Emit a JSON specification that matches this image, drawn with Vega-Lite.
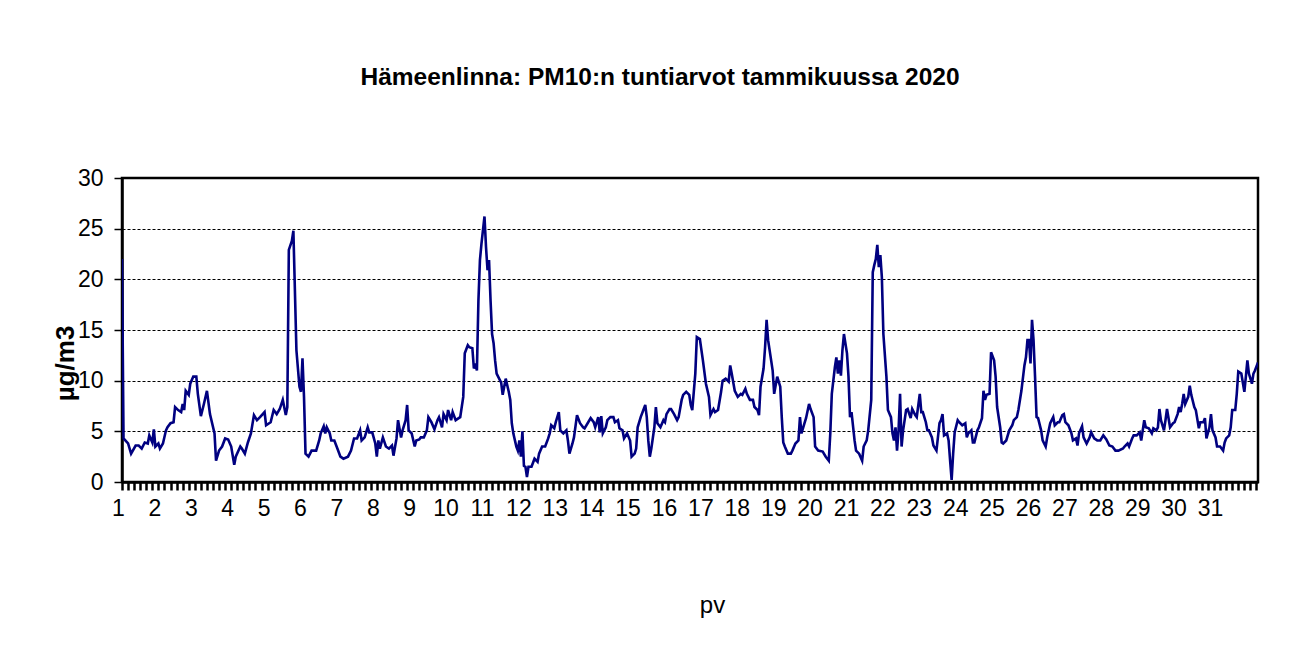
{
  "$schema": "https://vega.github.io/schema/vega-lite/v6.json",
  "autosize": "none",
  "width": 1136,
  "height": 304,
  "padding": {"left": 122, "top": 178, "right": 32, "bottom": 171},
  "background": "white",
  "title": {
    "text": "Hämeenlinna: PM10:n tuntiarvot tammikuussa 2020",
    "font": "Liberation Sans, Arial, sans-serif",
    "fontSize": 24.5,
    "fontWeight": "bold",
    "color": "black",
    "anchor": "middle",
    "frame": "group",
    "offset": 77,
    "dx": -30
  },
  "config": {
    "view": {"stroke": "black", "strokeWidth": 2.5},
    "axis": {"labelColor": "black", "tickColor": "black", "domainColor": "black", "titleColor": "black"}
  },
  "data": {"values": [
    {"tunti":0,"pm10":22.0},{"tunti":1,"pm10":4.3},{"tunti":4,"pm10":3.8},{"tunti":6,"pm10":2.8},{"tunti":9,"pm10":3.6},{"tunti":11,"pm10":3.6},{"tunti":13,"pm10":3.3},{"tunti":15,"pm10":3.9},{"tunti":17,"pm10":3.8},{"tunti":18,"pm10":4.6},{"tunti":20,"pm10":3.9},{"tunti":21,"pm10":5.2},{"tunti":22,"pm10":3.5},{"tunti":24,"pm10":3.8},{"tunti":25,"pm10":3.3},{"tunti":27,"pm10":3.8},{"tunti":29,"pm10":5.1},{"tunti":30,"pm10":5.4},{"tunti":32,"pm10":5.8},{"tunti":34,"pm10":5.9},{"tunti":35,"pm10":7.4},{"tunti":37,"pm10":7.1},{"tunti":39,"pm10":6.9},{"tunti":40,"pm10":7.7},{"tunti":41,"pm10":7.1},{"tunti":42,"pm10":9.0},{"tunti":44,"pm10":8.6},{"tunti":45,"pm10":9.7},{"tunti":47,"pm10":10.4},{"tunti":49,"pm10":10.4},{"tunti":50,"pm10":8.7},{"tunti":52,"pm10":6.5},{"tunti":54,"pm10":7.7},{"tunti":56,"pm10":9.0},{"tunti":58,"pm10":6.7},{"tunti":61,"pm10":4.8},{"tunti":62,"pm10":2.1},{"tunti":64,"pm10":3.1},{"tunti":66,"pm10":3.5},{"tunti":68,"pm10":4.3},{"tunti":70,"pm10":4.2},{"tunti":72,"pm10":3.5},{"tunti":74,"pm10":1.7},{"tunti":75,"pm10":2.5},{"tunti":78,"pm10":3.5},{"tunti":79,"pm10":3.3},{"tunti":81,"pm10":2.8},{"tunti":83,"pm10":3.9},{"tunti":85,"pm10":4.8},{"tunti":87,"pm10":6.6},{"tunti":89,"pm10":6.1},{"tunti":91,"pm10":6.4},{"tunti":94,"pm10":6.9},{"tunti":95,"pm10":5.6},{"tunti":98,"pm10":5.9},{"tunti":100,"pm10":7.1},{"tunti":102,"pm10":6.7},{"tunti":104,"pm10":7.2},{"tunti":106,"pm10":8.1},{"tunti":108,"pm10":6.6},{"tunti":109,"pm10":7.4},{"tunti":110,"pm10":22.9},{"tunti":112,"pm10":23.8},{"tunti":113,"pm10":24.8},{"tunti":115,"pm10":13.0},{"tunti":117,"pm10":9.4},{"tunti":118,"pm10":8.9},{"tunti":119,"pm10":12.2},{"tunti":120,"pm10":8.4},{"tunti":121,"pm10":2.8},{"tunti":123,"pm10":2.5},{"tunti":125,"pm10":3.1},
    {"tunti":128,"pm10":3.1},{"tunti":130,"pm10":4.1},{"tunti":131,"pm10":4.8},{"tunti":133,"pm10":5.5},{"tunti":134,"pm10":4.8},{"tunti":135,"pm10":5.4},{"tunti":137,"pm10":4.8},{"tunti":138,"pm10":4.1},{"tunti":140,"pm10":4.1},{"tunti":142,"pm10":3.3},{"tunti":144,"pm10":2.5},{"tunti":146,"pm10":2.3},{"tunti":149,"pm10":2.5},{"tunti":151,"pm10":3.1},{"tunti":153,"pm10":4.3},{"tunti":155,"pm10":4.3},{"tunti":157,"pm10":5.1},{"tunti":158,"pm10":4.1},{"tunti":160,"pm10":4.4},{"tunti":162,"pm10":5.4},{"tunti":163,"pm10":4.9},{"tunti":165,"pm10":4.9},{"tunti":167,"pm10":3.8},{"tunti":168,"pm10":2.5},{"tunti":169,"pm10":4.1},{"tunti":170,"pm10":3.3},{"tunti":172,"pm10":4.4},{"tunti":174,"pm10":3.5},{"tunti":176,"pm10":3.3},{"tunti":178,"pm10":3.6},{"tunti":179,"pm10":2.6},{"tunti":181,"pm10":4.3},{"tunti":182,"pm10":6.1},{"tunti":184,"pm10":4.4},{"tunti":185,"pm10":5.1},{"tunti":187,"pm10":6.1},{"tunti":188,"pm10":7.6},{"tunti":189,"pm10":5.1},{"tunti":191,"pm10":4.8},{"tunti":193,"pm10":3.5},{"tunti":194,"pm10":4.1},{"tunti":196,"pm10":4.2},{"tunti":197,"pm10":4.4},{"tunti":199,"pm10":4.4},{"tunti":201,"pm10":5.1},{"tunti":202,"pm10":6.4},{"tunti":204,"pm10":5.9},{"tunti":206,"pm10":5.2},{"tunti":208,"pm10":6.1},{"tunti":209,"pm10":6.4},{"tunti":211,"pm10":5.4},{"tunti":212,"pm10":6.7},{"tunti":214,"pm10":6.1},{"tunti":215,"pm10":7.1},{"tunti":217,"pm10":6.1},{"tunti":218,"pm10":6.9},{"tunti":220,"pm10":6.1},{"tunti":222,"pm10":6.3},{"tunti":223,"pm10":6.4},{"tunti":225,"pm10":8.4},{"tunti":226,"pm10":12.7},{"tunti":228,"pm10":13.5},{"tunti":229,"pm10":13.3},{"tunti":231,"pm10":13.2},{"tunti":232,"pm10":11.2},{"tunti":233,"pm10":11.7},{"tunti":234,"pm10":11.0},{"tunti":235,"pm10":17.9},{"tunti":236,"pm10":21.9},{"tunti":237,"pm10":23.5},{"tunti":239,"pm10":26.2},{"tunti":240,"pm10":23.2},{"tunti":241,"pm10":20.9},{"tunti":242,"pm10":21.9},{"tunti":243,"pm10":17.9},{"tunti":244,"pm10":14.6},{"tunti":245,"pm10":13.7},{"tunti":246,"pm10":12.0},{"tunti":247,"pm10":10.7},
    {"tunti":250,"pm10":9.8},{"tunti":251,"pm10":8.6},{"tunti":252,"pm10":9.4},{"tunti":253,"pm10":10.2},{"tunti":255,"pm10":8.9},{"tunti":256,"pm10":8.1},{"tunti":257,"pm10":5.8},{"tunti":258,"pm10":4.8},{"tunti":260,"pm10":3.5},{"tunti":261,"pm10":3.1},{"tunti":262,"pm10":4.1},{"tunti":263,"pm10":2.5},{"tunti":264,"pm10":5.0},{"tunti":265,"pm10":1.6},{"tunti":266,"pm10":1.5},{"tunti":267,"pm10":0.5},{"tunti":268,"pm10":1.5},{"tunti":270,"pm10":1.5},{"tunti":272,"pm10":2.3},{"tunti":274,"pm10":2.0},{"tunti":275,"pm10":2.8},{"tunti":277,"pm10":3.5},{"tunti":279,"pm10":3.5},{"tunti":281,"pm10":4.3},{"tunti":282,"pm10":4.8},{"tunti":283,"pm10":5.6},{"tunti":285,"pm10":5.3},{"tunti":286,"pm10":5.9},{"tunti":288,"pm10":6.9},{"tunti":289,"pm10":5.1},{"tunti":291,"pm10":4.8},{"tunti":293,"pm10":5.1},{"tunti":294,"pm10":4.1},{"tunti":295,"pm10":2.8},{"tunti":297,"pm10":3.8},{"tunti":298,"pm10":4.4},{"tunti":300,"pm10":6.6},{"tunti":302,"pm10":5.8},{"tunti":304,"pm10":5.4},{"tunti":305,"pm10":5.3},{"tunti":307,"pm10":5.8},{"tunti":309,"pm10":6.3},{"tunti":311,"pm10":5.9},{"tunti":312,"pm10":5.4},{"tunti":314,"pm10":6.4},{"tunti":315,"pm10":4.9},{"tunti":316,"pm10":6.5},{"tunti":317,"pm10":4.8},{"tunti":319,"pm10":5.4},{"tunti":320,"pm10":6.1},{"tunti":322,"pm10":6.4},{"tunti":324,"pm10":6.4},{"tunti":325,"pm10":5.9},{"tunti":327,"pm10":6.1},{"tunti":328,"pm10":5.3},{"tunti":330,"pm10":5.1},{"tunti":331,"pm10":4.3},{"tunti":333,"pm10":4.8},{"tunti":335,"pm10":4.1},{"tunti":336,"pm10":2.5},{"tunti":338,"pm10":2.8},{"tunti":339,"pm10":3.3},{"tunti":340,"pm10":5.4},{"tunti":342,"pm10":6.4},{"tunti":344,"pm10":7.2},{"tunti":345,"pm10":7.6},{"tunti":346,"pm10":6.4},{"tunti":347,"pm10":4.1},{"tunti":348,"pm10":2.5},{"tunti":349,"pm10":3.3},{"tunti":351,"pm10":5.4},{"tunti":352,"pm10":7.4},{"tunti":353,"pm10":5.8},{"tunti":355,"pm10":5.4},{"tunti":357,"pm10":6.1},{"tunti":358,"pm10":5.9},{"tunti":359,"pm10":6.7},{"tunti":361,"pm10":7.2},{"tunti":362,"pm10":7.2},{"tunti":364,"pm10":6.7},{"tunti":366,"pm10":6.1},{"tunti":367,"pm10":6.4},{"tunti":369,"pm10":8.1},{"tunti":370,"pm10":8.6},{"tunti":372,"pm10":8.9},{"tunti":374,"pm10":8.6},{"tunti":375,"pm10":7.6},
    {"tunti":376,"pm10":7.1},{"tunti":378,"pm10":10.7},{"tunti":379,"pm10":14.3},{"tunti":381,"pm10":14.1},{"tunti":383,"pm10":12.0},{"tunti":385,"pm10":9.7},{"tunti":387,"pm10":8.4},{"tunti":388,"pm10":6.6},{"tunti":390,"pm10":7.2},{"tunti":391,"pm10":6.9},{"tunti":393,"pm10":7.1},{"tunti":395,"pm10":8.9},{"tunti":396,"pm10":10.0},{"tunti":398,"pm10":10.2},{"tunti":400,"pm10":9.9},{"tunti":401,"pm10":11.5},{"tunti":402,"pm10":10.7},{"tunti":404,"pm10":9.0},{"tunti":406,"pm10":8.4},{"tunti":408,"pm10":8.7},{"tunti":409,"pm10":8.6},{"tunti":411,"pm10":9.2},{"tunti":412,"pm10":8.7},{"tunti":414,"pm10":8.1},{"tunti":416,"pm10":8.1},{"tunti":417,"pm10":7.4},{"tunti":419,"pm10":7.1},{"tunti":420,"pm10":6.6},{"tunti":421,"pm10":9.4},{"tunti":423,"pm10":11.2},{"tunti":424,"pm10":13.3},{"tunti":425,"pm10":16.0},{"tunti":426,"pm10":14.0},{"tunti":428,"pm10":12.0},{"tunti":429,"pm10":11.0},{"tunti":430,"pm10":8.7},{"tunti":432,"pm10":10.4},{"tunti":434,"pm10":9.4},{"tunti":435,"pm10":6.4},{"tunti":436,"pm10":3.9},{"tunti":437,"pm10":3.5},{"tunti":439,"pm10":2.8},{"tunti":441,"pm10":2.8},{"tunti":442,"pm10":3.1},{"tunti":444,"pm10":3.8},{"tunti":446,"pm10":4.1},{"tunti":447,"pm10":6.4},{"tunti":448,"pm10":4.8},{"tunti":450,"pm10":5.8},{"tunti":451,"pm10":6.3},{"tunti":453,"pm10":7.7},{"tunti":454,"pm10":7.2},{"tunti":456,"pm10":6.4},{"tunti":457,"pm10":3.5},{"tunti":459,"pm10":3.1},{"tunti":462,"pm10":3.0},{"tunti":464,"pm10":2.5},{"tunti":466,"pm10":2.1},{"tunti":467,"pm10":4.8},{"tunti":468,"pm10":8.7},{"tunti":470,"pm10":11.3},{"tunti":471,"pm10":12.3},{"tunti":472,"pm10":10.7},{"tunti":473,"pm10":12.0},{"tunti":474,"pm10":10.5},{"tunti":475,"pm10":13.0},{"tunti":476,"pm10":14.6},{"tunti":478,"pm10":12.7},{"tunti":479,"pm10":10.4},{"tunti":480,"pm10":6.4},{"tunti":481,"pm10":6.9},{"tunti":483,"pm10":4.1},{"tunti":484,"pm10":3.1},{"tunti":486,"pm10":2.8},{"tunti":488,"pm10":2.1},{"tunti":489,"pm10":3.5},{"tunti":491,"pm10":4.1},{"tunti":492,"pm10":5.1},{"tunti":494,"pm10":8.1},{"tunti":495,"pm10":20.7},{"tunti":496,"pm10":21.4},{"tunti":497,"pm10":22.0},{"tunti":498,"pm10":23.4},{"tunti":499,"pm10":21.2},{"tunti":500,"pm10":22.4},{"tunti":501,"pm10":20.2},
    {"tunti":502,"pm10":14.6},{"tunti":504,"pm10":10.4},{"tunti":505,"pm10":7.1},{"tunti":507,"pm10":6.4},{"tunti":508,"pm10":4.8},{"tunti":509,"pm10":4.1},{"tunti":510,"pm10":5.4},{"tunti":511,"pm10":3.1},{"tunti":512,"pm10":5.1},{"tunti":513,"pm10":8.7},{"tunti":514,"pm10":3.5},{"tunti":515,"pm10":5.1},{"tunti":517,"pm10":7.1},{"tunti":518,"pm10":7.2},{"tunti":520,"pm10":6.3},{"tunti":521,"pm10":7.2},{"tunti":523,"pm10":6.6},{"tunti":524,"pm10":6.4},{"tunti":526,"pm10":8.7},{"tunti":527,"pm10":6.9},{"tunti":528,"pm10":6.9},{"tunti":530,"pm10":5.9},{"tunti":531,"pm10":5.1},{"tunti":532,"pm10":5.1},{"tunti":534,"pm10":4.4},{"tunti":535,"pm10":3.6},{"tunti":537,"pm10":3.1},{"tunti":539,"pm10":5.8},{"tunti":540,"pm10":6.1},{"tunti":541,"pm10":6.7},{"tunti":542,"pm10":4.6},{"tunti":544,"pm10":4.8},{"tunti":545,"pm10":4.1},{"tunti":546,"pm10":2.1},{"tunti":547,"pm10":0.2},{"tunti":548,"pm10":2.8},{"tunti":549,"pm10":4.9},{"tunti":551,"pm10":6.1},{"tunti":552,"pm10":5.9},{"tunti":554,"pm10":5.6},{"tunti":556,"pm10":5.8},{"tunti":557,"pm10":4.4},{"tunti":558,"pm10":4.8},{"tunti":560,"pm10":5.1},{"tunti":561,"pm10":3.9},{"tunti":562,"pm10":3.9},{"tunti":564,"pm10":5.1},{"tunti":565,"pm10":5.4},{"tunti":567,"pm10":6.3},{"tunti":568,"pm10":9.0},{"tunti":569,"pm10":8.1},{"tunti":570,"pm10":8.6},{"tunti":572,"pm10":8.7},{"tunti":573,"pm10":12.8},{"tunti":575,"pm10":12.0},{"tunti":576,"pm10":10.4},{"tunti":577,"pm10":7.4},{"tunti":579,"pm10":5.4},{"tunti":580,"pm10":3.9},{"tunti":581,"pm10":3.8},{"tunti":583,"pm10":4.1},{"tunti":585,"pm10":5.1},{"tunti":587,"pm10":5.6},{"tunti":588,"pm10":6.1},{"tunti":590,"pm10":6.4},{"tunti":591,"pm10":7.1},{"tunti":593,"pm10":9.0},{"tunti":595,"pm10":11.5},{"tunti":596,"pm10":12.3},{"tunti":597,"pm10":14.0},{"tunti":598,"pm10":14.0},{"tunti":599,"pm10":11.7},{"tunti":600,"pm10":16.0},{"tunti":601,"pm10":14.0},{"tunti":602,"pm10":10.4},{"tunti":603,"pm10":6.4},{"tunti":604,"pm10":6.3},{"tunti":606,"pm10":5.1},{"tunti":607,"pm10":4.1},{"tunti":609,"pm10":3.5},{"tunti":610,"pm10":4.4},{"tunti":612,"pm10":5.8},{"tunti":613,"pm10":6.1},{"tunti":614,"pm10":6.4},{"tunti":615,"pm10":5.6},{"tunti":617,"pm10":5.9},{"tunti":618,"pm10":5.9},{"tunti":620,"pm10":6.6},{"tunti":621,"pm10":6.7},{"tunti":622,"pm10":5.9},{"tunti":624,"pm10":5.6},{"tunti":626,"pm10":4.8},
    {"tunti":627,"pm10":4.1},{"tunti":629,"pm10":4.3},{"tunti":630,"pm10":3.6},{"tunti":631,"pm10":4.8},{"tunti":633,"pm10":5.5},{"tunti":634,"pm10":4.4},{"tunti":636,"pm10":3.8},{"tunti":638,"pm10":4.4},{"tunti":639,"pm10":4.9},{"tunti":641,"pm10":4.3},{"tunti":643,"pm10":4.1},{"tunti":645,"pm10":4.1},{"tunti":647,"pm10":4.6},{"tunti":649,"pm10":4.2},{"tunti":651,"pm10":3.6},{"tunti":653,"pm10":3.5},{"tunti":655,"pm10":3.1},{"tunti":657,"pm10":3.1},{"tunti":660,"pm10":3.3},{"tunti":661,"pm10":3.5},{"tunti":663,"pm10":3.8},{"tunti":664,"pm10":3.5},{"tunti":666,"pm10":4.3},{"tunti":667,"pm10":4.6},{"tunti":669,"pm10":4.6},{"tunti":671,"pm10":4.9},{"tunti":672,"pm10":4.1},{"tunti":674,"pm10":6.1},{"tunti":675,"pm10":5.4},{"tunti":677,"pm10":5.3},{"tunti":679,"pm10":4.8},{"tunti":680,"pm10":5.3},{"tunti":682,"pm10":5.1},{"tunti":683,"pm10":5.4},{"tunti":684,"pm10":7.2},{"tunti":685,"pm10":6.1},{"tunti":687,"pm10":5.1},{"tunti":688,"pm10":6.1},{"tunti":689,"pm10":7.2},{"tunti":691,"pm10":5.4},{"tunti":693,"pm10":5.8},{"tunti":694,"pm10":5.9},{"tunti":696,"pm10":6.7},{"tunti":697,"pm10":7.4},{"tunti":698,"pm10":6.9},{"tunti":699,"pm10":7.7},{"tunti":700,"pm10":8.7},{"tunti":701,"pm10":7.7},{"tunti":703,"pm10":8.4},{"tunti":704,"pm10":9.5},{"tunti":705,"pm10":8.6},{"tunti":707,"pm10":7.4},{"tunti":708,"pm10":7.1},{"tunti":710,"pm10":5.3},{"tunti":711,"pm10":5.9},{"tunti":713,"pm10":5.9},{"tunti":714,"pm10":6.3},{"tunti":715,"pm10":4.3},{"tunti":717,"pm10":5.4},{"tunti":718,"pm10":6.7},{"tunti":719,"pm10":5.1},{"tunti":721,"pm10":4.4},{"tunti":722,"pm10":3.5},{"tunti":724,"pm10":3.5},{"tunti":726,"pm10":3.1},{"tunti":727,"pm10":3.9},{"tunti":728,"pm10":4.3},{"tunti":730,"pm10":4.6},{"tunti":731,"pm10":5.4},{"tunti":732,"pm10":7.1},{"tunti":734,"pm10":7.1},{"tunti":735,"pm10":8.7},{"tunti":736,"pm10":10.9},{"tunti":738,"pm10":10.7},{"tunti":740,"pm10":8.9},{"tunti":741,"pm10":10.4},{"tunti":742,"pm10":12.0},{"tunti":743,"pm10":10.7},{"tunti":745,"pm10":9.7},{"tunti":746,"pm10":10.7},{"tunti":747,"pm10":11.0},{"tunti":749,"pm10":11.8}
  ]},
  "mark": {"type": "line", "color": "#000080", "strokeWidth": 2.6, "clip": true},
  "encoding": {
    "x": {
      "field": "tunti",
      "type": "quantitative",
      "scale": {"domain": [0, 749], "nice": false, "zero": false},
      "axis": {
        "values": [0,4,8,12,16,20,24,28,32,36,40,44,48,52,56,60,64,68,72,76,80,84,88,92,96,100,104,108,112,116,120,124,128,132,136,140,144,148,152,156,160,164,168,172,176,180,184,188,192,196,200,204,208,212,216,220,224,228,232,236,240,244,248,252,256,260,264,268,272,276,280,284,288,292,296,300,304,308,312,316,320,324,328,332,336,340,344,348,352,356,360,364,368,372,376,380,384,388,392,396,400,404,408,412,416,420,424,428,432,436,440,444,448,452,456,460,464,468,472,476,480,484,488,492,496,500,504,508,512,516,520,524,528,532,536,540,544,548,552,556,560,564,568,572,576,580,584,588,592,596,600,604,608,612,616,620,624,628,632,636,640,644,648,652,656,660,664,668,672,676,680,684,688,692,696,700,704,708,712,716,720,724,728,732,736,740,744,748],
        "labelExpr": "(datum.value % 24 == 0 && datum.value <= 720) ? toString(datum.value / 24 + 1) : ''",
        "labelOverlap": false,
        "labelFlush": false,
        "labelBound": false,
        "labelFont": "Liberation Sans, Arial, sans-serif",
        "labelFontSize": 23,
        "labelOffset": -4,
        "labelPadding": 7,
        "tickSize": 8,
        "tickWidth": 2.5,
        "domainWidth": 2.5,
        "grid": false,
        "title": "pv",
        "titleFont": "Liberation Sans, Arial, sans-serif",
        "titleFontSize": 24,
        "titleFontWeight": "normal",
        "titleX": 590,
        "titleY": 123,
        "titleBaseline": "middle",
        "titleAlign": "center"
      }
    },
    "y": {
      "field": "pm10",
      "type": "quantitative",
      "scale": {"domain": [0, 30], "nice": false},
      "axis": {
        "values": [0, 5, 10, 15, 20, 25, 30],
        "grid": true,
        "gridColor": "black",
        "gridDash": [3, 2],
        "gridWidth": 1,
        "gridOpacity": 1,
        "labelFont": "Liberation Sans, Arial, sans-serif",
        "labelFontSize": 23,
        "labelPadding": 11,
        "tickSize": 8,
        "tickWidth": 1.5,
        "domainWidth": 2.5,
        "title": "µg/m3",
        "titleFont": "Liberation Sans, Arial, sans-serif",
        "titleFontSize": 26,
        "titleFontWeight": "bold",
        "titleAngle": 270,
        "titleX": -57,
        "titleY": 185,
        "titleBaseline": "middle",
        "titleAlign": "center"
      }
    }
  }
}
